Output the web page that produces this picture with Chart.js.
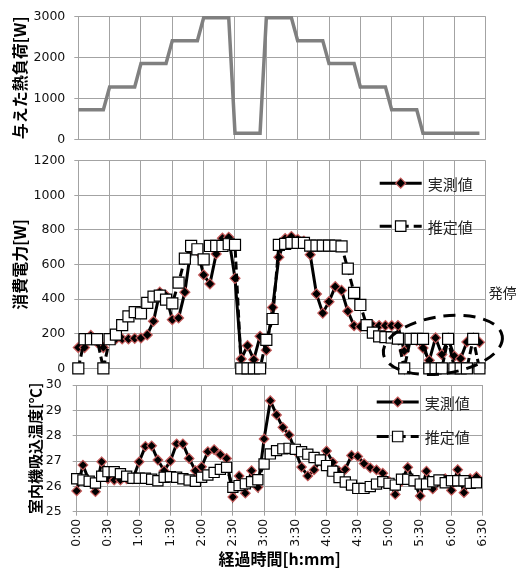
<!DOCTYPE html>
<html>
<head>
<meta charset="utf-8">
<script src="https://cdn.jsdelivr.net/npm/chart.js@4.4.0/dist/chart.umd.min.js"></script>
<style>
  html, body { margin: 0; padding: 0; background: #fff; }
  #wrap { position: relative; width: 516px; height: 569px; }
  #wrap canvas { position: absolute; left: 0; top: 0; }
</style>
</head>
<body>
<div id="wrap">
  <canvas id="heat" width="516" height="569"></canvas>
  <canvas id="power" width="516" height="569"></canvas>
  <canvas id="temp" width="516" height="569"></canvas>
</div>
<script>
// elapsed time [min], one sample every 6 minutes
const minutes = [0, 6, 12, 18, 24, 30, 36, 42, 48, 54, 60, 66, 72, 78, 84, 90, 96, 102, 108, 114,
  120, 126, 132, 138, 144, 150, 156, 162, 168, 174, 180, 186, 192, 198, 204, 210, 216, 222, 228, 234,
  240, 246, 252, 258, 264, 270, 276, 282, 288, 294, 300, 306, 312, 318, 324, 330, 336, 342, 348, 354,
  360, 366, 372, 378, 384];

// 与えた熱負荷 [W]
const heatLoad = [720, 720, 720, 720, 720, 1280, 1280, 1280, 1280, 1280,
  1850, 1850, 1850, 1850, 1850, 2410, 2410, 2410, 2410, 2410,
  2970, 2970, 2970, 2970, 2970, 150, 150, 150, 150, 150,
  2970, 2970, 2970, 2970, 2970, 2410, 2410, 2410, 2410, 2410,
  1850, 1850, 1850, 1850, 1850, 1280, 1280, 1280, 1280, 1280,
  720, 720, 720, 720, 720, 150, 150, 150, 150, 150,
  150, 150, 150, 150, 150];

// 消費電力 [W]
const powerMeasured = [120, 120, 190, 150, 120, 170, 170, 170, 170, 173,
  175, 193, 272, 440, 420, 281, 291, 440, 700, 680,
  540, 488, 661, 752, 757, 520, 54, 131, 50, 185,
  105, 352, 642, 750, 762, 745, 735, 657, 430, 319,
  385, 472, 450, 330, 246, 241, 247, 247, 247, 247,
  247, 247, 100, 170, 160, 118, 46, 176, 80, 170,
  70, 56, 152, 170, 150];
const powerEstimated = [0, 168, 168, 168, 0, 168, 195, 250, 300, 325,
  318, 378, 414, 420, 397, 375, 495, 634, 707, 688,
  630, 707, 707, 707, 717, 713, 0, 0, 0, 0,
  164, 285, 713, 719, 725, 725, 725, 709, 709, 709,
  709, 709, 705, 576, 436, 366, 250, 206, 185, 180,
  178, 172, 0, 170, 170, 170, 0, 0, 0, 170,
  0, 0, 0, 170, 0];

// 室内機吸込温度 [℃]
const tempMeasured = [25.82, 26.84, 26.2, 25.79, 26.97, 26.3, 26.25, 26.25, 26.3, 26.3,
  26.97, 27.58, 27.6, 27.04, 26.62, 27.0, 27.68, 27.68, 27.1, 26.62,
  26.77, 27.37, 27.45, 27.25, 27.1, 25.58, 26.41, 25.73, 26.62, 25.96,
  27.87, 29.38, 28.82, 28.33, 28.03, 27.4, 26.76, 26.41, 26.65, 27.0,
  27.4, 26.95, 26.6, 26.67, 27.22, 27.18, 26.9, 26.73, 26.65, 26.52,
  26.2, 25.68, 26.2, 26.75, 26.2, 25.62, 26.6, 25.9, 26.2, 26.3,
  25.84, 26.66, 25.75, 26.3, 26.38];
const tempEstimated = [26.3, 26.25, 26.2, 26.13, 26.4, 26.58, 26.58, 26.5, 26.4, 26.32,
  26.32, 26.32, 26.28, 26.22, 26.36, 26.38, 26.36, 26.3, 26.25, 26.2,
  26.36, 26.45, 26.55, 26.67, 26.75, 25.96, 26.03, 26.1, 26.18, 26.26,
  26.88, 27.28, 27.41, 27.48, 27.5, 27.46, 27.37, 27.27, 27.14, 27.04,
  26.82, 26.6, 26.35, 26.17, 26.05, 25.92, 25.92, 25.99, 26.09, 26.18,
  26.12, 26.05, 26.28, 26.28, 26.22, 26.09, 26.09, 26.18, 26.25, 26.14,
  26.22, 26.22, 26.22, 26.12, 26.14];

const seriesNames = ["実測値", "推定値"];
const panelTitles = ["与えた熱負荷[W]", "消費電力[W]", "室内機吸込温度[℃]"];
const xTitle = "経過時間[h:mm]";
const noteText = "発停";

Chart.defaults.font.family = "'DejaVu Sans', 'Noto Sans CJK JP', sans-serif";
Chart.defaults.font.size = 12.5;
Chart.defaults.color = "#111";
Chart.defaults.animation = false;

const gridColor = "#a3a3a3";
const cjk = "'Noto Sans CJK JP', sans-serif";

const pts = arr => minutes.map((m, i) => ({ x: m, y: arr[i] }));
const fmtTime = v => Math.floor(v / 60) + ":" + String(v % 60).padStart(2, "0");

function xAxis(showLabels) {
  const ax = {
    type: "linear", min: 0, max: 390,
    grid: { color: gridColor, drawTicks: showLabels, tickLength: 4 },
    border: { color: gridColor },
    ticks: {
      display: showLabels, stepSize: 30, autoSkip: false,
      minRotation: 90, maxRotation: 90, padding: 3, callback: fmtTime
    }
  };
  if (showLabels) {
    ax.title = { display: true, text: xTitle, color: "#000",
      font: { family: cjk, size: 16, weight: "bold" }, padding: { top: 0, bottom: 0 } };
    ax.afterFit = s => { s.height = 57.3; };
  }
  return ax;
}

function yAxis(min, max, step, title, width, titleSize, titlePad, labelPad) {
  return {
    min, max,
    grid: { color: gridColor, tickLength: 4 },
    border: { color: gridColor },
    ticks: { stepSize: step, padding: labelPad, callback: v => String(v) },
    title: { display: true, text: title, color: "#000",
      font: { family: cjk, size: titleSize, weight: "bold" }, padding: { top: titlePad, bottom: 0 } },
    afterFit: s => { s.width = width; }
  };
}

function measuredSet(data, r) {
  return {
    label: seriesNames[0], data: pts(data), order: 2, clip: false,
    borderColor: "#000", borderWidth: 3, tension: 0,
    pointStyle: "rectRot", pointRadius: r, pointBackgroundColor: "#000",
    pointBorderColor: "#c55a5a", pointBorderWidth: 1.2
  };
}
function estimatedSet(data, r) {
  return {
    label: seriesNames[1], data: pts(data), order: 1, clip: false,
    borderColor: "#000", borderWidth: 3, borderDash: [8, 4], tension: 0,
    pointStyle: "rect", pointRadius: r, pointBackgroundColor: "#fff",
    pointBorderColor: "#000", pointBorderWidth: 1.2
  };
}

function drawMarker(ctx, type, x, y, r) {
  ctx.save();
  ctx.setLineDash([]);
  ctx.beginPath();
  if (type === "diamond") {
    ctx.moveTo(x, y - r); ctx.lineTo(x + r, y); ctx.lineTo(x, y + r); ctx.lineTo(x - r, y);
    ctx.closePath();
    ctx.fillStyle = "#000"; ctx.fill();
    ctx.strokeStyle = "#c55a5a"; ctx.lineWidth = 1.2; ctx.stroke();
  } else {
    const h = r * Math.SQRT1_2;
    ctx.rect(x - h, y - h, 2 * h, 2 * h);
    ctx.fillStyle = "#fff"; ctx.fill();
    ctx.strokeStyle = "#000"; ctx.lineWidth = 1.2; ctx.stroke();
  }
  ctx.restore();
}

function makeLegend(rows, dr, sr) {
  return {
    id: "panelLegend",
    afterDraw(chart) {
      const ctx = chart.ctx, a = chart.chartArea;
      ctx.save();
      rows.forEach((dy, i) => {
        const y = a.top + dy;
        ctx.strokeStyle = "#000"; ctx.lineWidth = 3;
        ctx.setLineDash(i === 1 ? [12, 5] : []);
        ctx.beginPath(); ctx.moveTo(a.right - 106, y); ctx.lineTo(a.right - 64, y); ctx.stroke();
        drawMarker(ctx, i === 0 ? "diamond" : "square", a.right - 85, y, i === 0 ? dr : sr);
        ctx.fillStyle = "#222";
        ctx.font = "15px " + cjk;
        ctx.textAlign = "left"; ctx.textBaseline = "middle";
        ctx.fillText(seriesNames[i], a.right - 58, y + 1);
      });
      ctx.restore();
    }
  };
}

// dashed ellipse around the on/off cycling part
const notePlugin = {
  id: "cycleNote",
  afterDatasetsDraw(chart) {
    const { ctx, scales: { x, y }, chartArea: a } = chart;
    const cx = x.getPixelForValue(349), cy = y.getPixelForValue(135);
    const rx = x.getPixelForValue(349 + 57.5) - cx;
    const ry = cy - y.getPixelForValue(135 + 165);
    ctx.save();
    ctx.strokeStyle = "#000"; ctx.lineWidth = 3; ctx.setLineDash([12, 8]);
    ctx.beginPath();
    ctx.ellipse(cx, cy, rx, ry, -0.15, 0, Math.PI * 2);
    ctx.stroke();
    ctx.setLineDash([]);
    ctx.fillStyle = "#222"; ctx.font = "14px " + cjk;
    ctx.textAlign = "left"; ctx.textBaseline = "middle";
    ctx.fillText(noteText, a.right + 3, y.getPixelForValue(436));
    ctx.restore();
  }
};

const baseOpts = pad => ({
  responsive: false,
  layout: { padding: pad },
  plugins: { legend: { display: false }, tooltip: { enabled: false } }
});

new Chart(document.getElementById("heat"), {
  type: "line",
  data: { datasets: [{
    data: pts(heatLoad), borderColor: "#808080", borderWidth: 3.5,
    pointRadius: 0, tension: 0, clip: false
  }] },
  options: Object.assign(baseOpts({ top: 13.5, right: 30.3, bottom: 569 - 139.3, left: 0 }), {
    scales: {
      x: xAxis(false),
      y: yAxis(0, 3000, 1000, panelTitles[0], 78.3, 16, 10, 9)
    }
  })
});

new Chart(document.getElementById("power"), {
  type: "line",
  data: { datasets: [measuredSet(powerMeasured, 5), estimatedSet(powerEstimated, 7.8)] },
  options: Object.assign(baseOpts({ top: 160.7, right: 30.3, bottom: 569 - 368.3, left: 0 }), {
    scales: {
      x: xAxis(false),
      y: yAxis(0, 1200, 200, panelTitles[1], 78.3, 16, 10, 9)
    }
  }),
  plugins: [makeLegend([22.5, 65.5], 5, 7.4), notePlugin]
});

new Chart(document.getElementById("temp"), {
  type: "line",
  data: { datasets: [measuredSet(tempMeasured, 4.8), estimatedSet(tempEstimated, 7.2)] },
  options: Object.assign(baseOpts({ top: 385, right: 33.3, bottom: 0, left: 0 }), {
    scales: {
      x: xAxis(true),
      y: yAxis(25, 30, 1, panelTitles[2], 76.7, 15, 26, 11)
    }
  }),
  plugins: [makeLegend([17, 51.5], 5, 7.4)]
});
</script>
</body>
</html>
